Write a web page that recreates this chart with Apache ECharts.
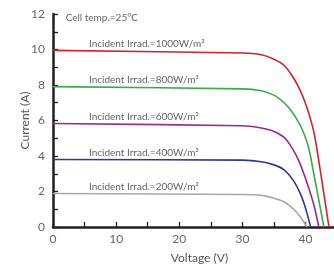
<!DOCTYPE html>
<html><head><meta charset="utf-8">
<script src="https://cdn.jsdelivr.net/npm/echarts@6/dist/echarts.min.js"></script>
<style>html,body{margin:0;padding:0;background:#fff;overflow:hidden}#c{width:334px;height:269px}</style>
</head><body><div id="c"></div>
<script>
const v1000 = [0, 30, 33, 35, 36.6, 38, 39.2, 40.1, 40.8, 41.4, 42.1, 42.9, 43.7];
const i1000 = [9.95, 9.80, 9.70, 9.45, 9.10, 8.45, 7.65, 6.85, 6.05, 5.2, 3.7, 1.85, 0];
const v800 = [0, 30, 33, 34.5, 35.5, 36.6, 37.6, 38.9, 39.7, 40.5, 41.3, 42.1, 42.9];
const i800 = [7.91, 7.78, 7.68, 7.5, 7.32, 7.0, 6.6, 5.9, 5.3, 4.45, 3.0, 1.5, 0];
const v600 = [0, 30, 33, 34.5, 35.5, 36.6, 37.6, 38.5, 39.2, 40.5, 41.3, 42.1];
const i600 = [5.83, 5.70, 5.58, 5.45, 5.30, 5.05, 4.6, 4.05, 3.5, 2.2, 1.25, 0];
const v400 = [0, 30, 33, 35, 36.6, 38.1, 39.2, 40.0, 40.8];
const i400 = [3.80, 3.77, 3.68, 3.50, 3.22, 2.6, 1.85, 1.05, 0];
const v200 = [0, 30, 33, 35, 36.6, 38.1, 39.2, 40.2];
const i200 = [1.89, 1.83, 1.78, 1.62, 1.42, 1.0, 0.56, 0];

const curveNames = ['Incident Irrad.=1000W/m²', 'Incident Irrad.=800W/m²', 'Incident Irrad.=600W/m²', 'Incident Irrad.=400W/m²', 'Incident Irrad.=200W/m²'];
const curveColors = ['#d0222e', '#3aaa4a', '#a2278f', '#2e3a8f', '#a6a8ab'];
const labelV = 5.7;
const tempText = 'Cell temp.=25°C';
const tempPos = [2.0, 11.8];
const xTitle = 'Voltage (V)';
const yTitle = 'Current (A)';

const curves = [[v1000, i1000], [v800, i800], [v600, i600], [v400, i400], [v200, i200]];
const font = 'Lato';
const series = curves.map((c, k) => ({
  type: 'line', name: curveNames[k], smooth: 0.3, showSymbol: false,
  lineStyle: { color: curveColors[k], width: 1.6 },
  data: c[0].map((v, j) => [v, c[1][j]]), z: 3
}));
series.push({
  type: 'scatter', symbolSize: 0, silent: true,
  data: curves.map((c, k) => ({ value: [labelV, c[1][0]], name: curveNames[k] })),
  label: { show: true, position: [0, 0], align: 'left', verticalAlign: 'bottom', offset: [0, -2],
    formatter: p => p.name, fontFamily: font, fontSize: 10, color: '#3a3a3a' }
});
series.push({
  type: 'scatter', symbolSize: 0, silent: true,
  data: [{ value: tempPos, name: tempText }],
  label: { show: true, position: [0, 0], align: 'left', verticalAlign: 'middle',
    formatter: p => p.name, fontFamily: font, fontSize: 10, color: '#3a3a3a' }
});

const chart = echarts.init(document.getElementById('c'), null, { renderer: 'canvas' });
chart.setOption({
  animation: false,
  grid: { left: 53, right: 0, top: 14, bottom: 37.5, containLabel: false },
  xAxis: {
    type: 'value', min: 0, max: 44.5, interval: 5,
    name: xTitle, nameLocation: 'middle', nameGap: 25, nameMoveOverlap: false,
    nameTextStyle: { fontFamily: font, fontSize: 12, color: '#555', padding: [0, 0, 0, 12] },
    axisLine: { show: true, onZero: false, lineStyle: { color: '#231f20', width: 2.5 } },
    axisTick: { show: true, inside: true, length: 5, lineStyle: { color: '#231f20', width: 1.3 } },
    axisLabel: { showMaxLabel: false, formatter: v => (v % 10 === 0 ? String(v) : ''), fontFamily: font, fontSize: 12, color: '#666', margin: 6 },
    splitLine: { show: false }
  },
  yAxis: {
    type: 'value', min: 0, max: 12, interval: 1,
    name: yTitle, nameLocation: 'middle', nameGap: 22, nameMoveOverlap: false,
    nameTextStyle: { fontFamily: font, fontSize: 12, color: '#555' },
    axisLine: { show: true, onZero: false, lineStyle: { color: '#231f20', width: 2.5 } },
    axisTick: { show: true, inside: true, length: 5, lineStyle: { color: '#231f20', width: 1.3 } },
    axisLabel: { formatter: v => (v % 2 === 0 ? String(v) : ''), fontFamily: font, fontSize: 12, color: '#666', margin: 8 },
    splitLine: { show: false }
  },
  series: series
});
</script></body></html>
